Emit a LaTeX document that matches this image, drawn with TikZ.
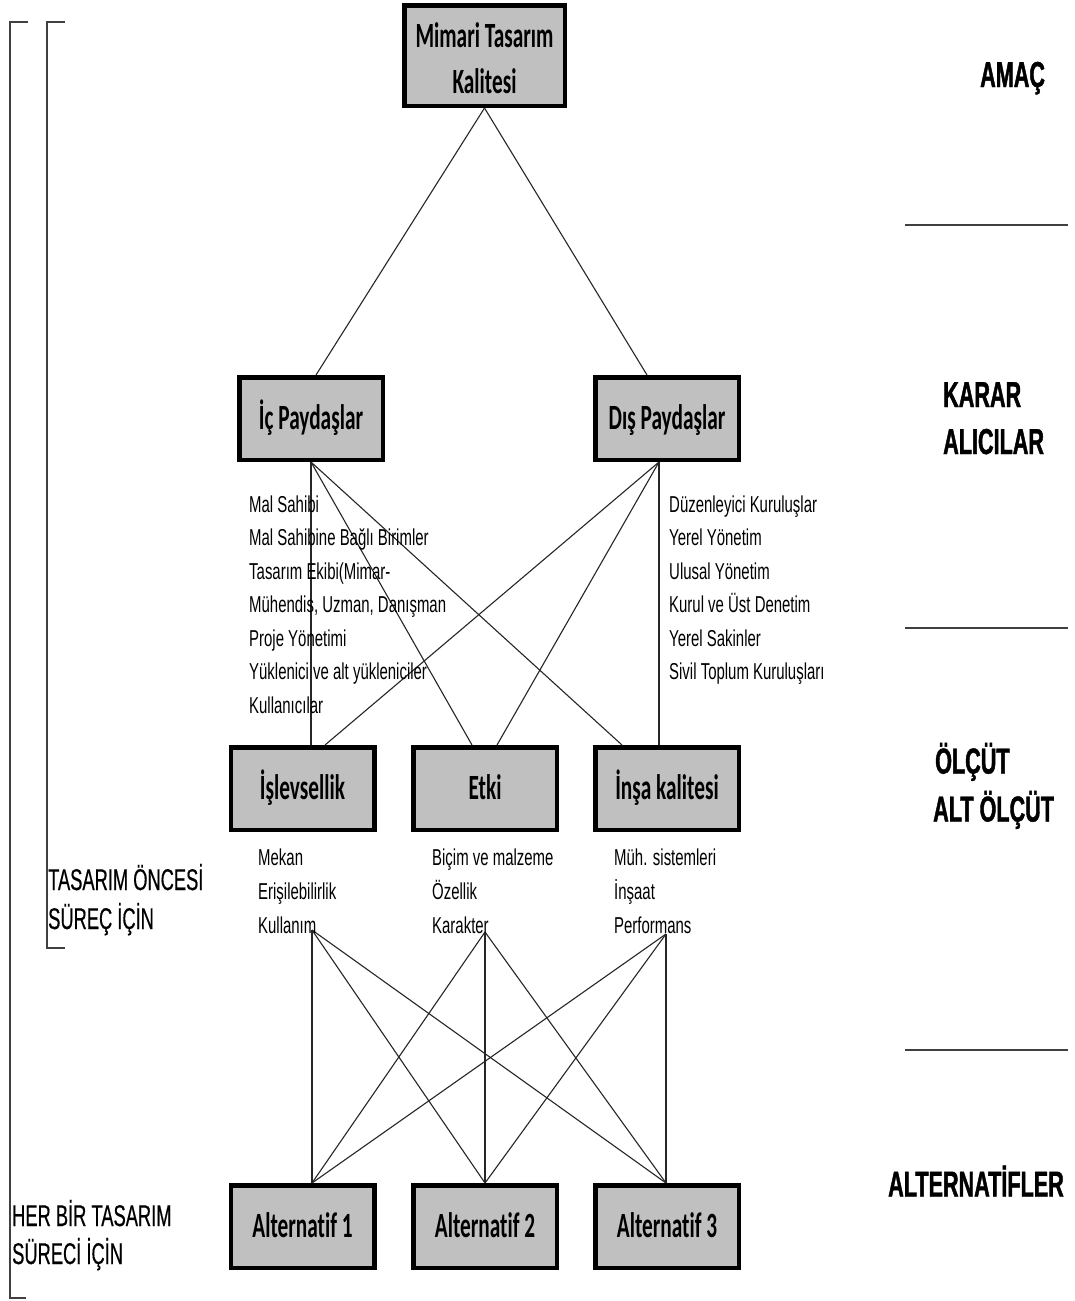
\documentclass[tikz,border=0pt]{standalone}
\usepackage{fontspec}
\usetikzlibrary{backgrounds}
\newfontfamily\boxfont{Carlito}[FakeStretch=0.6, Ligatures=NoCommon]
\newfontfamily\listfont{Liberation Sans}[FakeStretch=0.65]
\newfontfamily\labfont{Liberation Sans}[FakeStretch=0.6, BoldFeatures={FakeBold=1.2}]
\newfontfamily\sidefont{Liberation Sans}[FakeStretch=0.61, FakeBold=0.4]
\definecolor{boxgray}{RGB}{192,192,192}
\begin{document}
\begin{tikzpicture}[x=1pt,y=-1pt,
  box/.style={draw=black, line width=4.5pt, fill=boxgray, inner sep=0pt,
    minimum width=143.5pt, minimum height=82.5pt,
    font=\boxfont\bfseries\fontsize{35.5}{46}\selectfont,
    text height=22.5pt, text depth=0pt},
  conn/.style={draw=black!85, line width=1.1pt},
  lst/.style={anchor=base west, inner sep=0pt, font=\listfont\fontsize{23}{27}\selectfont},
  lvl/.style={anchor=base west, inner sep=0pt, font=\labfont\bfseries\fontsize{36}{40}\selectfont},
  side/.style={anchor=base west, inner sep=0pt, font=\sidefont\fontsize{30}{36}\selectfont},
  sepline/.style={line width=2pt, draw=black!75},
  brk/.style={line width=2pt, draw=black!75}]
\useasboundingbox (0,0) rectangle (1074,1301);

% boxes
\node[box, minimum width=160.5pt, minimum height=100.5pt, align=center, text height=75pt, text depth=0pt] (top) at (484.5,55.5) {Mimari Tasarım\\Kalitesi};
\node[box] (ic) at (311,418.5) {İç Paydaşlar};
\node[box] (dis) at (667,418.5) {Dış Paydaşlar};
\node[box] (isl) at (302.5,788.5) {İşlevsellik};
\node[box] (etki) at (485,788.5) {Etki};
\node[box] (insa) at (667,788.5) {İnşa kalitesi};
\node[box] (alt1) at (302.5,1226.5) {Alternatif 1};
\node[box] (alt2) at (485,1226.5) {Alternatif 2};
\node[box] (alt3) at (667,1226.5) {Alternatif 3};

% lists
\foreach \t [count=\i from 0] in {Mal Sahibi, Mal Sahibine Bağlı Birimler, Tasarım Ekibi(Mimar-, {Mühendis, Uzman, Danışman}, Proje Yönetimi, Yüklenici ve alt yükleniciler, Kullanıcılar}
  \node[lst] (icl\i) at (249,512+33.5*\i) {\t};
\foreach \t [count=\i from 0] in {Düzenleyici Kuruluşlar, Yerel Yönetim, Ulusal Yönetim, Kurul ve Üst Denetim, Yerel Sakinler, Sivil Toplum Kuruluşları}
  \node[lst] (disl\i) at (669,512+33.5*\i) {\t};
\foreach \t [count=\i from 0] in {Mekan, Erişilebilirlik, Kullanım}
  \node[lst] (isll\i) at (258,865+34*\i) {\t};
\foreach \t [count=\i from 0] in {Biçim ve malzeme, Özellik, Karakter}
  \node[lst] (etkil\i) at (432,865+34*\i) {\t};
\foreach \t [count=\i from 0] in {Müh. sistemleri, İnşaat, Performans}
  \node[lst] (insal\i) at (614,865+34*\i) {\t};

\coordinate (kul) at (312,930);
\coordinate (kar) at (485,932);
\coordinate (perf) at (666,934);
\coordinate (disb) at (659,462);

% connectors
\begin{scope}[on background layer]
\fill[white] (0,0) rectangle (1074,1301);
\draw[conn] (top.south) -- ([xshift=5pt]ic.north);
\draw[conn] (top.south) -- ([xshift=-20pt]dis.north);
\draw[conn] (ic.south) -- (ic.south |- isl.north);
\draw[conn] (ic.south) -- ([xshift=-13pt]etki.north);
\draw[conn] (ic.south) -- ([xshift=-45pt]insa.north);
\draw[conn] (disb) -- (disb |- insa.north);
\draw[conn] (disb) -- ([xshift=12pt]etki.north);
\draw[conn] (disb) -- ([xshift=22.5pt]isl.north);
\foreach \s in {kul,kar,perf} {
  \draw[conn] (\s) -- (kul |- alt1.north);
  \draw[conn] (\s) -- (alt2.north);
  \draw[conn] (\s) -- (perf |- alt3.north);
}
\end{scope}

% level labels
\node[lvl] (amac) at (980,87) {AMAÇ};
\node[lvl] (karar) at (943,407) {KARAR};
\node[lvl] (alicilar) at (943,454) {ALICILAR};
\node[lvl] (olcut) at (935,773.5) {ÖLÇÜT};
\node[lvl] (altolcut) at (933,821.5) {ALT ÖLÇÜT};
\node[lvl] (alternatifler) at (888,1196.5) {ALTERNATİFLER};
\draw[sepline] (905,225) -- (1068,225);
\draw[sepline] (905,628) -- (1068,628);
\draw[sepline] (905,1050) -- (1068,1050);

% brackets
\draw[brk] (28,22) -- (10,22) -- (10,1298) -- (26,1298);
\draw[brk] (65,22) -- (47,22) -- (47,948) -- (65,948);
\node[side] (tas1) at (48,890) {TASARIM ÖNCESİ};
\node[side] (tas2) at (48,929) {SÜREÇ İÇİN};
\node[side] (her1) at (12,1226) {HER BİR TASARIM};
\node[side] (her2) at (12,1264) {SÜRECİ İÇİN};
\end{tikzpicture}
\end{document}
